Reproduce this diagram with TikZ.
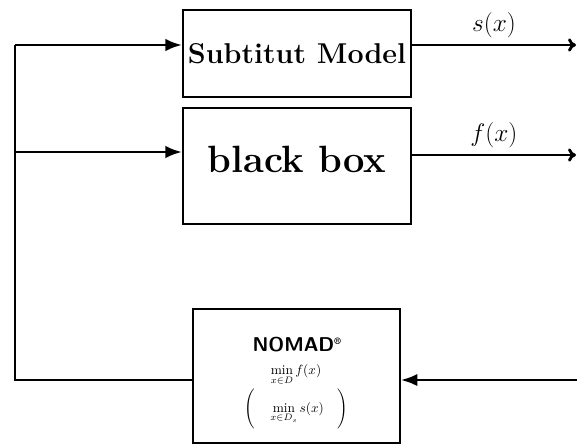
\documentclass[tikz,border=0pt]{standalone}
\usepackage{fix-cm}
\usepackage{amsmath,amssymb}
\usepackage{fontspec}
\usetikzlibrary{arrows.meta,positioning}

\begin{document}
\begin{tikzpicture}[x=0.75pt,y=-0.75pt,>=Latex,
  blk/.style={draw,line width=1.4pt,inner sep=0pt},
  conn/.style={line width=2.1pt}]
\useasboundingbox (0,0) rectangle (577,446);
% boxes
\node[blk,minimum width=171pt,minimum height=65pt,font=\bfseries\fontsize{21.5}{24}\selectfont] (sub) at (297,53.5) {Subtitut Model};
\node[blk,minimum width=171pt,minimum height=87pt] (bbox) at (297,166) {};
\node[font=\bfseries\fontsize{28.5}{32}\selectfont] (bbtxt) at (297,159) {black box};
\node[blk,minimum width=155pt,minimum height=100pt] (nomad) at (296.5,376) {};
\node[font=\sffamily\bfseries\fontsize{15}{18}\selectfont] (nmtitle) at (297,345) {NOMAD\textsuperscript{\scriptsize\textregistered}};
\node[font=\fontsize{10}{12}\selectfont,inner sep=0pt] (nmf) at (296,375) {$\displaystyle\min_{x\in D} f(x)$};
\node[font=\fontsize{10}{12}\selectfont,inner sep=0pt] (nms) at (296,409) {$\Bigg(\quad\displaystyle\min_{x\in D_s} s(x)\quad\Bigg)$};
% bus on the left
\coordinate (bt) at (15,45);
\coordinate (bm) at (15,152);
\coordinate (bl) at (15,380);
\draw[conn] (bt) -- (bl) -- (bl -| nomad.west);
\draw[conn,->] (bt) -- (bt -| sub.west);
\draw[conn,->] (bm) -- (bm -| bbox.west);
% outputs
\coordinate (so) at (576,45);
\coordinate (fo) at (576,155);
\draw[conn,-{To[length=6pt,width=10pt]}] (so -| sub.east) -- (so) node[midway,above=1pt,font=\fontsize{19}{22}\selectfont] {$s(x)$};
\draw[conn,-{To[length=6pt,width=10pt]}] (fo -| bbox.east) -- (fo) node[midway,above=1pt,font=\fontsize{19}{22}\selectfont] {$f(x)$};
% feedback
\coordinate (fb) at (577,380);
\draw[conn,->] (fb) -- (fb -| nomad.east);
\end{tikzpicture}
\end{document}
